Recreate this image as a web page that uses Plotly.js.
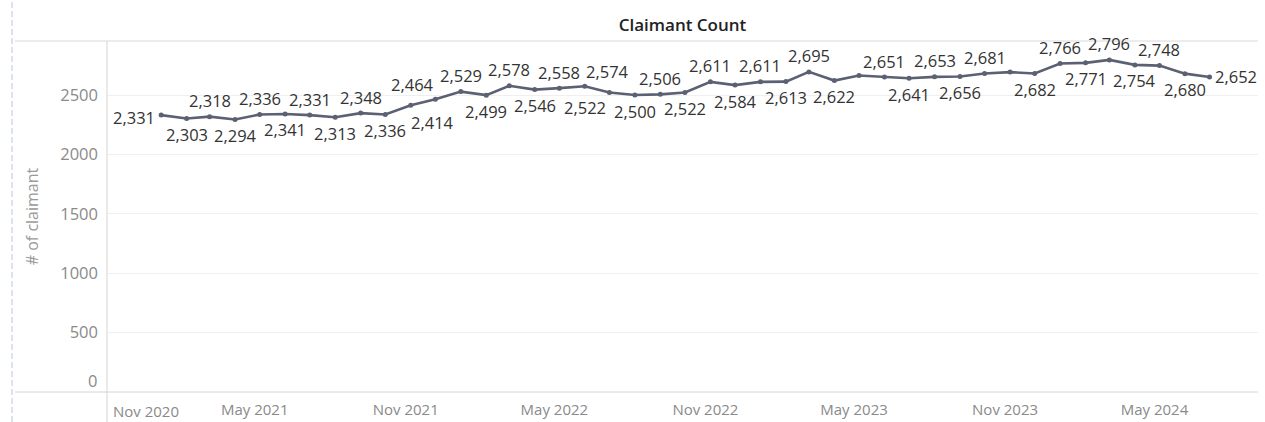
<!DOCTYPE html>
<html>
<head>
<meta charset="utf-8">
<script src="https://cdn.plot.ly/plotly-3.0.1.min.js"></script>
<style>
  html, body { margin: 0; padding: 0; background: #ffffff; }
  #chart { width: 1265px; height: 422px; }
</style>
</head>
<body>
<div id="chart"></div>
<script>
// ---- data ----
const months = [
  '2021-01-01','2021-02-01','2021-03-01','2021-04-01','2021-05-01','2021-06-01',
  '2021-07-01','2021-08-01','2021-09-01','2021-10-01','2021-11-01','2021-12-01',
  '2022-01-01','2022-02-01','2022-03-01','2022-04-01','2022-05-01','2022-06-01',
  '2022-07-01','2022-08-01','2022-09-01','2022-10-01','2022-11-01','2022-12-01',
  '2023-01-01','2023-02-01','2023-03-01','2023-04-01','2023-05-01','2023-06-01',
  '2023-07-01','2023-08-01','2023-09-01','2023-10-01','2023-11-01','2023-12-01',
  '2024-01-01','2024-02-01','2024-03-01','2024-04-01','2024-05-01','2024-06-01',
  '2024-07-01'
];
const claimantCount = [
  2331, 2303, 2318, 2294, 2336, 2341,
  2331, 2313, 2348, 2336, 2414, 2464,
  2529, 2499, 2578, 2546, 2558, 2574,
  2522, 2500, 2506, 2522, 2611, 2584,
  2611, 2613, 2695, 2622, 2665, 2651,
  2641, 2653, 2656, 2681, 2693, 2682,
  2766, 2771, 2796, 2754, 2748, 2680,
  2652
];
const xTickDates  = ['2020-11-01','2021-05-01','2021-11-01','2022-05-01','2022-11-01','2023-05-01','2023-11-01','2024-05-01'];
const xTickLabels = ['Nov 2020','May 2021','Nov 2021','May 2022','Nov 2022','May 2023','Nov 2023','May 2024'];
const yTickValues = [0, 500, 1000, 1500, 2000, 2500];
const chartTitle = 'Claimant Count';
const yAxisTitle = '# of claimant';

// ---- label placement (styling only) ----
const hiddenLabelIdx = [28, 34];
const placeDefault = i => (i % 2 === 0 ? 'top' : 'bottom');
const placeOverride = {
  0: 'left', 10: 'bottomRight', 11: 'topLeft', 12: 'top', 13: 'bottom',
  14: 'top', 15: 'bottom', 16: 'top', 17: 'topRight', 18: 'bottomLeft',
  19: 'bottom', 20: 'top', 21: 'bottom', 22: 'top', 23: 'bottom', 24: 'top',
  25: 'bottom', 26: 'top', 27: 'bottom', 29: 'top', 30: 'bottom', 31: 'top',
  32: 'bottom', 33: 'top', 35: 'bottom', 36: 'top', 37: 'bottom', 38: 'top',
  39: 'bottom', 40: 'top', 41: 'bottom', 42: 'right'
};
const placeStyle = {
  top:         { xanchor: 'center', xshift: 0,   yshift: 16 },
  bottom:      { xanchor: 'center', xshift: 0,   yshift: -16 },
  left:        { xanchor: 'right',  xshift: -4,  yshift: -2 },
  right:       { xanchor: 'left',   xshift: 3,   yshift: 0 },
  topLeft:     { xanchor: 'center', xshift: -23, yshift: 15 },
  topRight:    { xanchor: 'center', xshift: 23,  yshift: 15 },
  bottomLeft:  { xanchor: 'center', xshift: -24, yshift: -15 },
  bottomRight: { xanchor: 'center', xshift: 22,  yshift: -17 }
};

const fmt = v => v.toLocaleString('en-US');

const FONT = '"Open Sans", "Noto Sans", sans-serif';
const TICK_GRAY = '#8a8a8a';
const W = 1265, H = 422;
const mL = 107, mR = 7, mT = 41, mB = 30;
const pw = W - mL - mR, ph = H - mT - mB;
const px2x = p => (p - mL) / pw;
const py2y = p => (H - mB - p) / ph;

const trace = {
  type: 'scatter',
  mode: 'lines+markers',
  x: months,
  y: claimantCount,
  line: { color: '#5b6172', width: 2.6 },
  marker: { color: '#5b6172', size: 5 },
  cliponaxis: false,
  hoverinfo: 'skip'
};

const labelAnnotations = claimantCount.map((v, i) => {
  if (hiddenLabelIdx.includes(i)) return null;
  const st = placeStyle[placeOverride[i] || placeDefault(i)];
  return {
    xref: 'x', yref: 'y', x: months[i], y: v,
    text: fmt(v), showarrow: false,
    xanchor: st.xanchor, yanchor: 'middle',
    xshift: st.xshift, yshift: st.yshift,
    font: { family: FONT, size: 16.5, color: '#333333' }
  };
}).filter(a => a);

// the bottom-most y label sits just above the axis line (Tableau style)
const zeroLabel = {
  xref: 'paper', yref: 'y', x: 0, y: yTickValues[0],
  text: String(yTickValues[0]), showarrow: false,
  xanchor: 'right', yanchor: 'middle', xshift: -8, yshift: 12,
  font: { family: FONT, size: 16.5, color: TICK_GRAY }
};

const firstXLabel = {
  xref: 'x', yref: 'paper',
  x: xTickDates[0], y: py2y(411),
  text: xTickLabels[0],
  showarrow: false,
  xanchor: 'left', yanchor: 'middle',
  font: { family: FONT, size: 15, color: TICK_GRAY }
};

const layout = {
  width: W, height: H,
  margin: { l: mL, r: mR, t: mT, b: mB, pad: 0 },
  paper_bgcolor: '#ffffff',
  plot_bgcolor: '#ffffff',
  showlegend: false,
  font: { family: FONT, color: '#333333' },
  title: {
    text: chartTitle,
    font: { family: FONT, size: 17, color: '#222222', weight: 600 },
    xref: 'paper', x: 0.5, xanchor: 'center',
    yref: 'container', y: 1 - 25 / H, yanchor: 'middle'
  },
  xaxis: {
    type: 'date',
    range: ['2020-10-27', '2024-08-29'],
    tickvals: xTickDates.slice(1),
    ticktext: xTickLabels.slice(1),
    tickfont: { family: FONT, size: 15, color: TICK_GRAY },
    ticks: '',
    ticklabelstandoff: 7,
    ticklabelshift: -5,
    showgrid: false,
    zeroline: false,
    showline: false,
    fixedrange: true
  },
  yaxis: {
    range: [0, 2955],
    tickvals: yTickValues,
    ticktext: yTickValues.map((v, i) => (i === 0 ? '' : String(v))),
    tickfont: { family: FONT, size: 16.5, color: TICK_GRAY },
    ticks: '',
    ticklabelstandoff: 8,
    showgrid: true,
    gridcolor: '#efefef',
    gridwidth: 1,
    zeroline: false,
    showline: false,
    title: { text: yAxisTitle, font: { family: FONT, size: 16, color: '#9a9a9a' }, standoff: 17 },
    fixedrange: true
  },
  annotations: [firstXLabel, zeroLabel].concat(labelAnnotations),
  shapes: [
    { type: 'line', xref: 'paper', yref: 'paper', x0: px2x(15), x1: 1, y0: 1, y1: 1,
      line: { color: '#d9d9d9', width: 1 } },
    { type: 'line', xref: 'paper', yref: 'paper', x0: px2x(15), x1: 1, y0: 0, y1: 0,
      line: { color: '#d4d4d4', width: 1 } },
    { type: 'line', xref: 'paper', yref: 'paper', x0: 0, x1: 0, y0: py2y(H), y1: 1,
      line: { color: '#d4d4d4', width: 1 } },
    { type: 'line', xref: 'paper', yref: 'paper', x0: px2x(12), x1: px2x(12), y0: py2y(H), y1: py2y(0),
      line: { color: '#b9c6d8', width: 1, dash: '6px,3px' } }
  ]
};

Plotly.newPlot('chart', [trace], layout, { staticPlot: true, displayModeBar: false });
</script>
</body>
</html>
